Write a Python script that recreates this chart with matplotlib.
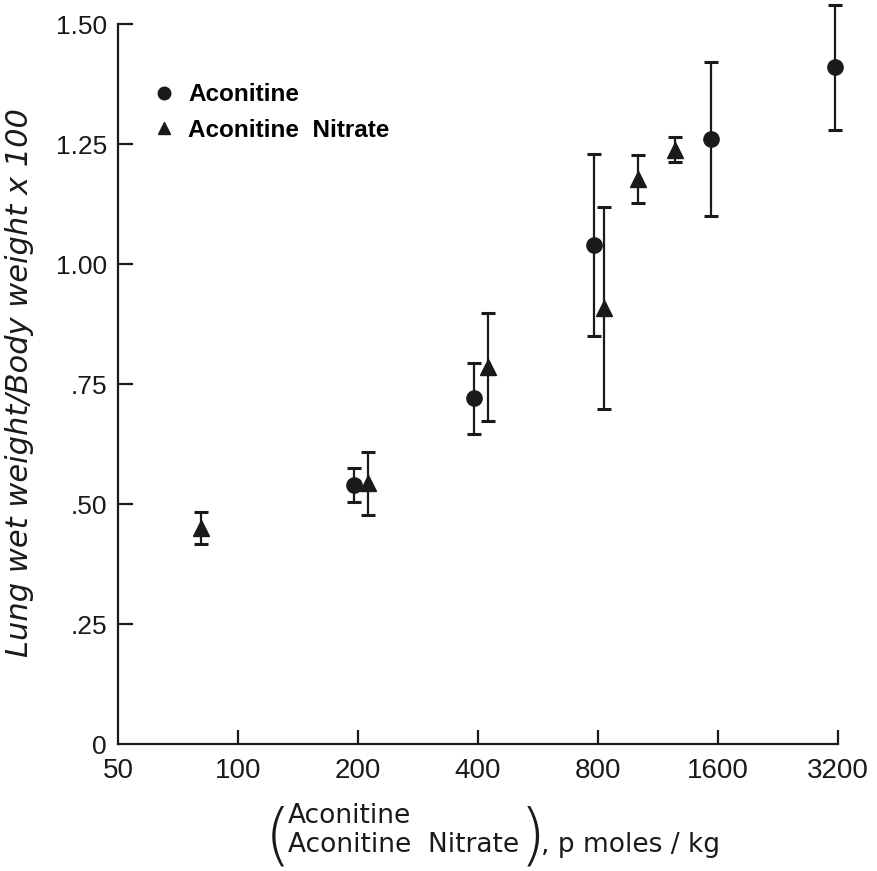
import matplotlib
matplotlib.use("Agg")
import matplotlib.pyplot as plt
from matplotlib.lines import Line2D
from matplotlib.ticker import FixedLocator, FixedFormatter, NullLocator

# Aconitine (circles)
aco_dose = [195, 390, 783, 1540, 3150]
aco_mean = [0.54, 0.72, 1.04, 1.26, 1.41]
aco_err = [0.035, 0.074, 0.19, 0.16, 0.13]

# Aconitine nitrate (triangles)
nit_dose = [81, 212, 425, 830, 1006, 1245]
nit_mean = [0.45, 0.543, 0.786, 0.909, 1.178, 1.238]
nit_err = [0.034, 0.065, 0.112, 0.21, 0.05, 0.026]

x_ticks = [50, 100, 200, 400, 800, 1600, 3200]
x_tick_labels = ["50", "100", "200", "400", "800", "1600", "3200"]
y_ticks = [0, 0.25, 0.50, 0.75, 1.00, 1.25, 1.50]
y_tick_labels = ["0", ".25", ".50", ".75", "1.00", "1.25", "1.50"]

SANS = ["Liberation Sans", "DejaVu Sans"]
plt.rcParams["font.family"] = SANS
INK = "#1a1a1a"

fig = plt.figure(figsize=(8.77, 8.71), dpi=100)
ax = fig.add_axes([0.1345, 0.1458, 0.8210, 0.8266])

ax.set_xscale("log", base=2)
ax.set_xlim(50, 3200)
ax.set_ylim(0, 1.5)

err_kw = dict(linestyle="none", color=INK, ecolor=INK, elinewidth=1.6,
              capsize=5, capthick=2.2, clip_on=False, zorder=3)
ax.errorbar(aco_dose, aco_mean, yerr=aco_err, marker="o", markersize=11, **err_kw)
ax.errorbar(nit_dose, nit_mean, yerr=nit_err, marker="^", markersize=11, **err_kw)

# axes frame: only left and bottom
for side in ("top", "right"):
    ax.spines[side].set_visible(False)
for side in ("left", "bottom"):
    ax.spines[side].set_linewidth(1.6)
    ax.spines[side].set_color(INK)

ax.xaxis.set_major_locator(FixedLocator(x_ticks))
ax.xaxis.set_major_formatter(FixedFormatter(x_tick_labels))
ax.xaxis.set_minor_locator(NullLocator())
ax.yaxis.set_major_locator(FixedLocator(y_ticks))
ax.yaxis.set_major_formatter(FixedFormatter(y_tick_labels))

ax.tick_params(axis="x", direction="in", length=10, width=1.6, color=INK,
               labelsize=20, pad=10, labelcolor=INK)
ax.tick_params(axis="y", direction="in", length=11, width=1.6, color=INK,
               labelsize=19, pad=8, labelcolor=INK)
# no tick mark at the corner of the axes
ax.xaxis.get_major_ticks()[0].tick1line.set_visible(False)
ax.yaxis.get_major_ticks()[0].tick1line.set_visible(False)

# legend
handles = [
    Line2D([], [], linestyle="none", marker="o", markersize=9, color=INK),
    Line2D([], [], linestyle="none", marker="^", markersize=9, color=INK),
]
ax.legend(handles, ["Aconitine", "Aconitine  Nitrate"], loc="upper left",
          bbox_to_anchor=(0.02, 0.948), frameon=False, handlelength=0.8,
          handletextpad=0.6, labelspacing=0.5,
          prop=dict(family=SANS, weight="bold", size=17.5))

# y axis title
fig.text(20 / 877, 1 - 383 / 871, "Lung wet weight/Body weight x 100",
         rotation=90, ha="center", va="center", fontsize=22, style="italic",
         family=["DejaVu Sans"], color=INK)

# x axis title: stacked compound names in large parentheses
fs = 19
fig.text(288 / 877, 1 - 823 / 871, "Aconitine", ha="left", va="baseline",
         fontsize=fs, color=INK, family=["DejaVu Sans"])
fig.text(288 / 877, 1 - 852 / 871, "Aconitine  Nitrate", ha="left", va="baseline",
         fontsize=fs, color=INK, family=["DejaVu Sans"])
fig.text(278 / 877, 1 - 838 / 871, "(", ha="center", va="center",
         fontsize=48, color=INK, family=["DejaVu Sans"], fontweight="light")
fig.text(533 / 877, 1 - 838 / 871, ")", ha="center", va="center",
         fontsize=48, color=INK, family=["DejaVu Sans"], fontweight="light")
fig.text(541 / 877, 1 - 852 / 871, ", p moles / kg", ha="left", va="baseline",
         fontsize=fs, color=INK, family=["DejaVu Sans"])

fig.savefig("out.png", dpi=100, facecolor="white")
